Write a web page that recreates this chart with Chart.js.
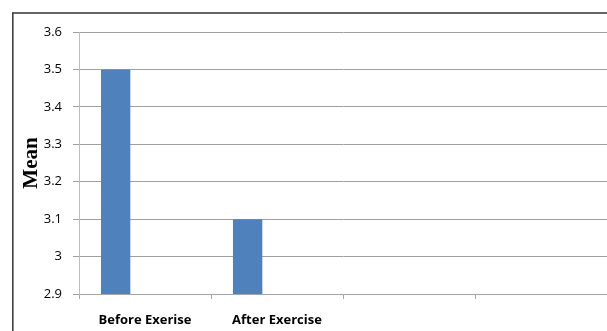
<!DOCTYPE html>
<html>
<head>
<meta charset="utf-8">
<script src="https://cdn.jsdelivr.net/npm/chart.js@4/dist/chart.umd.min.js"></script>
<style>
  html, body { margin: 0; padding: 0; background: #fff; }
  #wrap { width: 607px; height: 331px; position: relative; }
</style>
</head>
<body>
<div id="wrap"><canvas id="grafico-media"></canvas></div>
<script>
const categorias = ['Before Exerise', 'After Exercise', '', ''];
const serie1 = [3.5, 3.1, null, null];
const serie2 = [null, null, null, null];
const serie3 = [null, null, null, null];
const yMin = 2.9;
const yMax = 3.6;
const yPasso = 0.1;

// moldura externa do gráfico
const moldura = {
    id: 'moldura',
    afterDraw(chart) {
        const ctx = chart.ctx;
        ctx.save();
        ctx.strokeStyle = '#404040';
        ctx.lineWidth = 1.6;
        ctx.strokeRect(12.8, 13, 700, 400);
        ctx.restore();
    }
};

function criarGraficoMedia(canvasElement) {
    const ctx = canvasElement.getContext('2d');
    return new Chart(ctx, {
        type: 'bar',
        data: {
            labels: categorias,
            datasets: [
                { label: 'Série 1', data: serie1, backgroundColor: '#4f81bd' },
                { label: 'Série 2', data: serie2, backgroundColor: '#c0504d' },
                { label: 'Série 3', data: serie3, backgroundColor: '#9bbb59' }
            ]
        },
        options: {
            responsive: true,
            maintainAspectRatio: false,
            animation: false,
            categoryPercentage: 3 / 4.5,
            barPercentage: 1,
            layout: { padding: { left: 19, top: 32, right: 0, bottom: 0 } },
            plugins: {
                legend: { display: false },
                tooltip: { enabled: false }
            },
            scales: {
                x: {
                    afterFit: s => { s.height = 37; },
                    grid: {
                        offset: true,
                        drawOnChartArea: false,
                        tickLength: 5,
                        color: '#a6a6a6'
                    },
                    border: { color: '#a6a6a6' },
                    ticks: {
                        padding: 13,
                        color: '#000',
                        font: { family: 'Open Sans', size: 13, weight: 'bold' }
                    }
                },
                y: {
                    min: yMin,
                    max: yMax,
                    afterFit: s => { s.width = 60; },
                    grid: { color: '#a0a0a0', tickLength: 6 },
                    border: { color: '#bcbcbc' },
                    ticks: {
                        stepSize: yPasso,
                        padding: 11,
                        color: '#000',
                        font: { family: 'Open Sans', size: 13 },
                        callback: v => String(Number(v.toFixed(1)))
                    },
                    title: {
                        display: true,
                        text: 'Mean',
                        color: '#000',
                        padding: 0,
                        font: { family: 'Liberation Serif', size: 21, weight: 'bold' }
                    }
                }
            }
        },
        plugins: [moldura]
    });
}

criarGraficoMedia(document.getElementById('grafico-media'));
</script>
</body>
</html>
